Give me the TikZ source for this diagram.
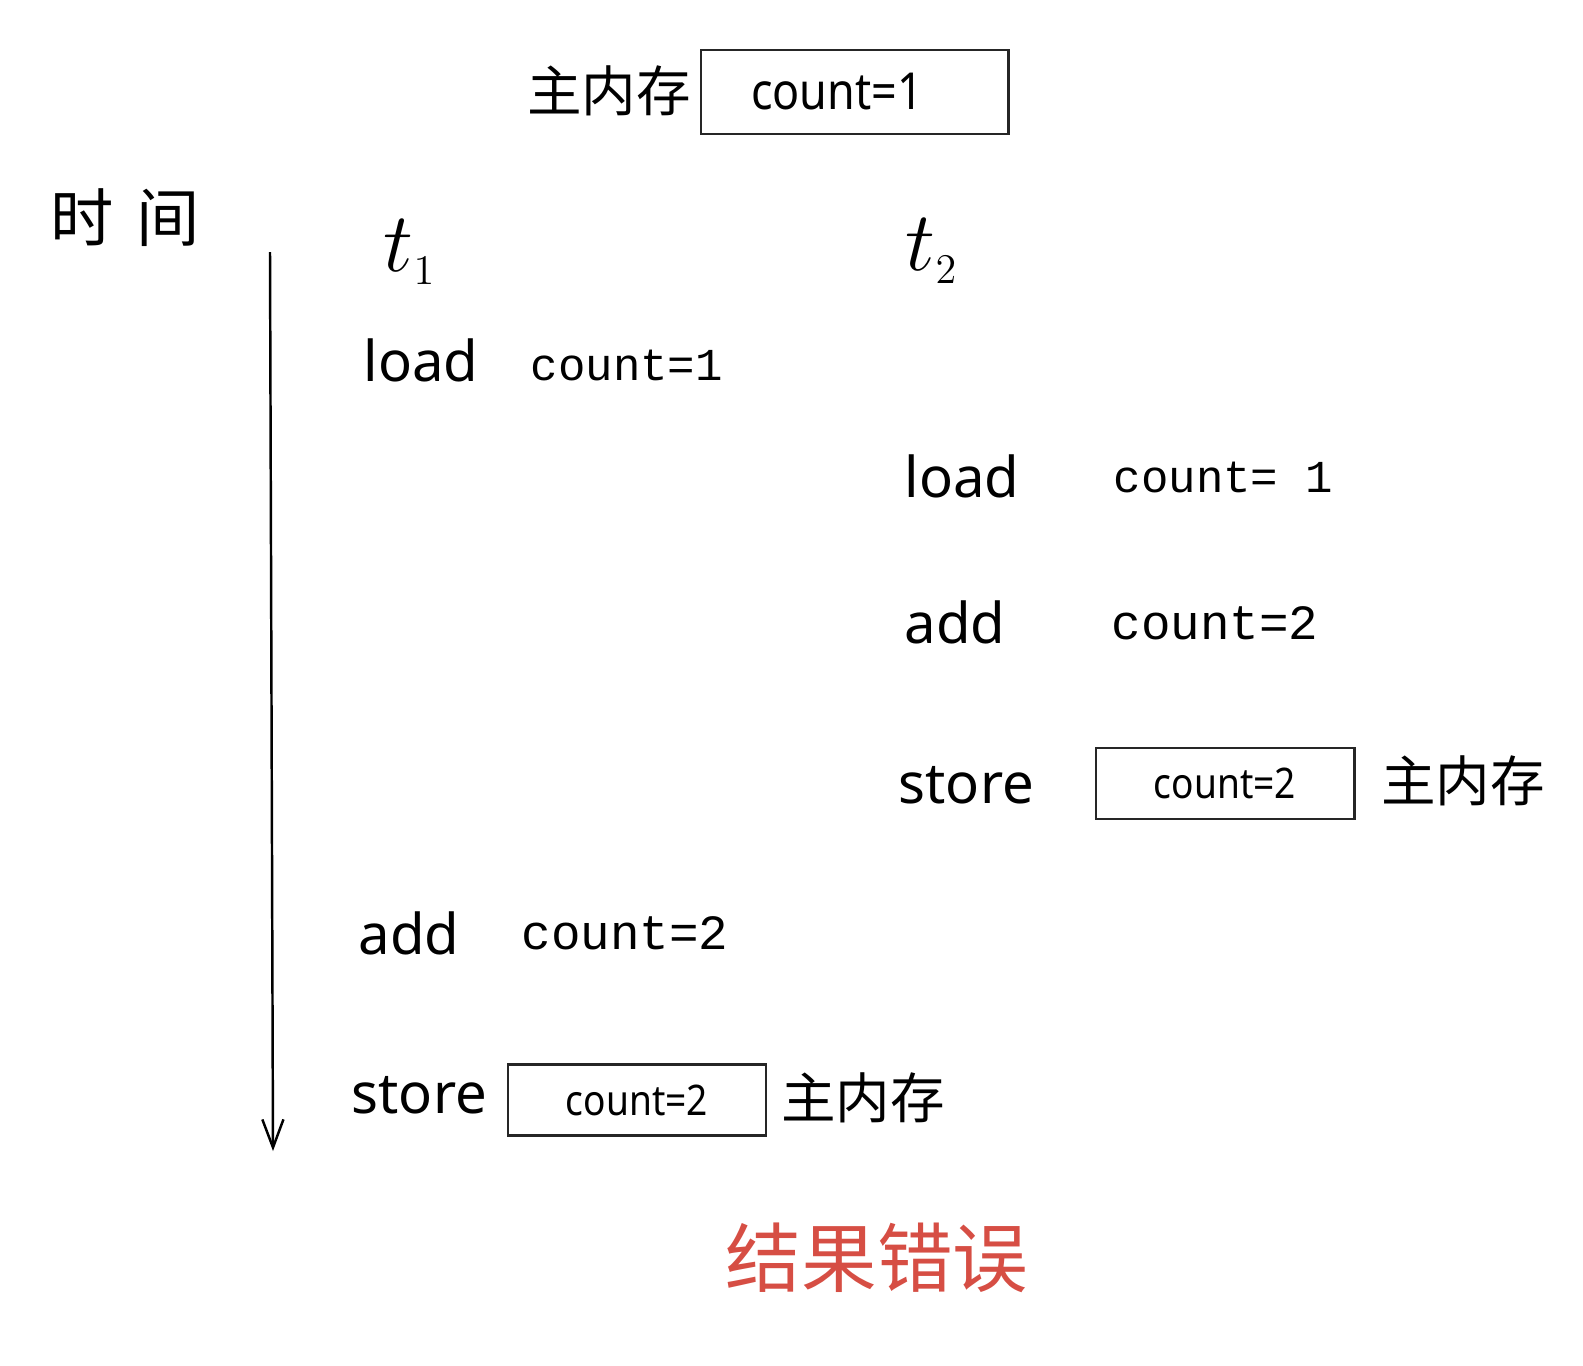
\RequirePackage{fix-cm}
\documentclass[tikz,border=0pt]{standalone}
\usepackage{fontspec}
\setmainfont{Noto Sans}
\newfontfamily\boxfont[FakeStretch=0.88]{Noto Sans}
\newfontfamily\hand{Liberation Mono}
\newfontfamily\cjk{Noto Sans CJK SC}
\usetikzlibrary{arrows.meta}
\definecolor{errred}{RGB}{214,78,68}
\tikzset{
  word/.style={inner sep=0pt, anchor=base west, font=\fontsize{16}{18}\selectfont},
  hw/.style={inner sep=0pt, anchor=base west, font=\hand\fontsize{13}{15}\selectfont},
  hwbig/.style={inner sep=0pt, anchor=base west, font=\hand\fontsize{14}{16}\selectfont},
  mem/.style={inner sep=0pt, font=\cjk\fontsize{15.5}{17}\selectfont},
  bigbox/.style={draw=black!85, line width=0.8pt, inner sep=0pt, minimum width=3.07cm, minimum height=0.84cm, font=\boxfont\fontsize{14.5}{16}\selectfont},
  smallbox/.style={draw=black!85, line width=0.8pt, inner sep=0pt, minimum width=2.58cm, minimum height=0.71cm, font=\boxfont\fontsize{12}{14}\selectfont},
  tlabel/.style={inner sep=0pt, font=\fontsize{24}{28}\selectfont}
}
\begin{document}
\begin{tikzpicture}[x=0.01cm,y=-0.01cm]
\path[use as bounding box] (0,0) rectangle (1583,1365);

% top memory
\node[mem] (memtop) at (609,91) {主内存};
\node[bigbox] (boxtop) at (854.5,92) {\hspace*{-0.35cm}count=1};

% time axis
\node[inner sep=0pt, font=\cjk\fontsize{18}{20}\selectfont] (time) at (125,218) {时\hspace{0.35em}间};
\coordinate (atop) at (270,252);
\coordinate (abot) at (273,1151);
\draw[line width=0.7pt, -{Straight Barb[length=8pt,width=6pt]}] (atop) -- (abot);

% thread labels
\node[tlabel] (t1) at (410,252) {$t_{\scriptscriptstyle 1}$};
\node[tlabel] (t2) at (932,251) {$t_{\scriptscriptstyle 2}$};

% thread 1
\node[word] (load1) at (363,381) {load};
\node[hw] (c1) at (530,380) {count=1};
\node[word] (add1) at (358,954) {add};
\node[hwbig] (c3) at (521,949) {count=2};
\node[word] (store1) at (351,1113) {store};
\node[smallbox] (box1) at (637,1100) {count=2};
\node[mem] (mem1) at (863,1098) {主内存};

% thread 2
\node[word] (load2) at (904,497) {load};
\node[hw] (c2) at (1113,492) {count= 1};
\node[word] (add2) at (904,643) {add};
\node[hwbig] (c4) at (1111,639) {count=2};
\node[word] (store2) at (898,803) {store};
\node[smallbox] (box2) at (1225,783.5) {count=2};
\node[mem] (mem2) at (1463,781) {主内存};

% result
\node[inner sep=0pt, text=errred, font=\cjk\fontsize{21.5}{24}\selectfont] (result) at (877,1258) {结果错误};
\end{tikzpicture}
\end{document}
